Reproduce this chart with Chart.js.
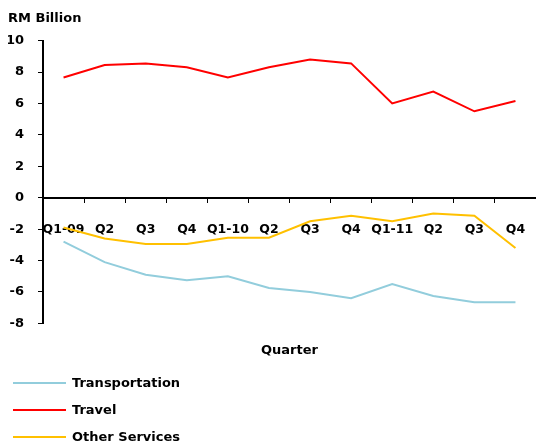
<!DOCTYPE html>
<html>
<head>
<meta charset="utf-8">
<script src="https://cdn.jsdelivr.net/npm/chart.js@4/dist/chart.umd.min.js"></script>
<style>
	body { margin: 0; background: #fff; }
	canvas { display: block; }
</style>
</head>
<body>
<canvas id="LineChart" width="536" height="446"></canvas>
<script>
const quarters = ["Q1-09", "Q2", "Q3", "Q4", "Q1-10", "Q2", "Q3", "Q4", "Q1-11", "Q2", "Q3", "Q4"];
const transportation = [-2.8, -4.1, -4.9, -5.25, -5.0, -5.75, -6.0, -6.4, -5.5, -6.25, -6.65, -6.65];
const travel = [7.65, 8.45, 8.55, 8.3, 7.65, 8.3, 8.8, 8.55, 6.0, 6.75, 5.5, 6.15];
const other_services = [-1.9, -2.6, -2.95, -2.95, -2.55, -2.55, -1.5, -1.15, -1.5, -1.0, -1.15, -3.2];

const FONT = "'DejaVu Sans'";

// legend drawn as a plain vertical list under the chart
const list_legend = {
	id: "list_legend",
	afterDraw(chart) {
		const ctx = chart.ctx;
		const top = chart.height - 63;
		ctx.save();
		ctx.font = "bold 13px " + FONT;
		ctx.textBaseline = "middle";
		chart.data.datasets.forEach((ds, i) => {
			const y = top + i * 27;
			ctx.strokeStyle = ds.borderColor;
			ctx.lineWidth = 2;
			ctx.beginPath();
			ctx.moveTo(13, y);
			ctx.lineTo(66, y);
			ctx.stroke();
			ctx.fillStyle = "#000";
			ctx.fillText(ds.label, 72, y + 1);
		});
		ctx.restore();
	}
};

const data = {
	labels: quarters,
	datasets: [{
		label: "Transportation",
		data: transportation,
		borderColor: "#92CDDC"
	}, {
		label: "Travel",
		data: travel,
		borderColor: "#FF0000"
	}, {
		label: "Other Services",
		data: other_services,
		borderColor: "#FFC000"
	}]
};

const context = document.getElementById("LineChart").getContext("2d");
const chart = new Chart(context, {
	type: "line",
	data,
	plugins: [list_legend],
	options: {
		responsive: false,
		animation: false,
		layout: { padding: { left: 8, right: 0, top: 0, bottom: 84 } },
		elements: {
			line: { borderWidth: 2, tension: 0 },
			point: { radius: 0 }
		},
		plugins: {
			legend: { display: false },
			tooltip: { enabled: false },
			title: {
				display: true,
				text: "RM Billion",
				align: "start",
				color: "#000",
				font: { family: FONT, size: 13, weight: "bold" },
				padding: { top: 11, bottom: 14 }
			}
		},
		scales: {
			x: {
				type: "category",
				position: { y: 0 },
				offset: true,
				z: 1,
				afterFit: scale => { scale.paddingLeft = 0; scale.paddingRight = 0; },
				grid: { offset: true, drawOnChartArea: false, drawTicks: true, tickLength: 4, color: "#000" },
				border: { display: true, color: "#000", width: 2 },
				ticks: {
					color: "#000",
					font: { family: FONT, size: 12.5, weight: "bold" },
					padding: 21,
					maxRotation: 0,
					autoSkip: false
				}
			},
			x2: {
				type: "category",
				position: "bottom",
				labels: quarters,
				grid: { display: false, drawTicks: false },
				border: { display: false },
				ticks: { display: false },
				title: {
					display: true,
					text: "Quarter",
					color: "#000",
					font: { family: FONT, size: 13, weight: "bold" },
					padding: { top: 19, bottom: 4 }
				}
			},
			y: {
				min: -8,
				max: 10,
				afterFit: scale => { scale.width = 35; },
				grid: { drawOnChartArea: false, drawTicks: true, tickLength: 5, color: "#000" },
				border: { display: true, color: "#000", width: 2 },
				ticks: {
					stepSize: 2,
					color: "#000",
					font: { family: FONT, size: 13, weight: "bold" },
					padding: 14
				}
			}
		}
	}
});
</script>
</body>
</html>
